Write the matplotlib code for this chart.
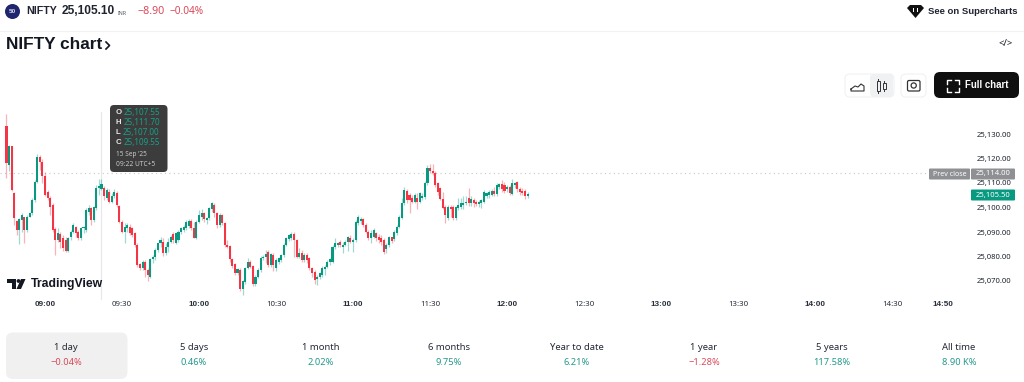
import matplotlib
matplotlib.use("Agg")
import matplotlib.pyplot as plt
from matplotlib.patches import FancyBboxPatch, Circle, Rectangle, Polygon

opens = [
25133.3,25117.4,25124.9,25105.8,25094.3,25090.9,25094.9,25096.0,25090.9,25096.3,
25097.7,25103.1,25110.6,25120.5,25118.7,25112.9,25106.5,25103.8,25101.1,25091.1,
25086.8,25089.2,25087.5,25086.8,25082.4,25088.1,25090.2,25092.2,25090.2,25087.5,
25091.5,25090.9,25098.3,25099.7,25094.9,25099.7,25107.9,25107.55,25107.9,25103.8,
25106.5,25102.4,25104.5,25105.8,25100.6,25094.2,25090.2,25091.5,25092.2,25091.5,
25089.5,25084.7,25077.0,25075.2,25077.9,25074.3,25071.8,25078.9,25080.0,25082.7,
25085.4,25086.1,25081.3,25084.0,25086.1,25089.0,25085.4,
25086.8,25090.2,25090.8,25091.5,25092.5,25094.5,25091.5,25087.7,25094.2,25096.3,
25097.6,25094.9,25095.6,25099.3,25101.0,25097.6,25092.9,25097.0,25093.6,25084.7,
25084.3,25078.9,25077.0,25073.4,25074.5,25066.6,25069.4,25075.2,25077.9,25076.2,
25068.8,25071.5,25074.5,25079.3,25080.0,25082.0,25076.6,25080.6,25075.2,25077.9,
25078.6,25080.6,25084.7,25087.0,25087.4,25089.2,25086.8,25080.0,25081.3,25078.6,
25080.6,25079.3,25075.2,25073.8,25070.7,25071.8,25072.5,25074.8,25075.9,25077.9,
25077.9,25083.8,25084.7,25086.1,25083.8,25084.7,25086.1,25087.4,25086.1,25086.8,
25093.6,25094.3,25095.2,25092.9,25090.2,25087.5,25087.9,25089.5,25087.9,25087.5,
25086.8,25083.0,25084.7,25087.9,25087.0,25089.5,25092.2,25095.6,25101.7,25106.9,
25105.1,25103.8,25102.4,25103.8,25102.4,25103.8,25104.1,25109.9,25116.0,25114.7,
25114.0,25109.9,25107.9,25103.4,25100.4,25095.6,25100.1,25100.4,25095.6,25099.7,
25100.4,25101.1,25101.7,25103.8,25101.7,25103.1,25102.4,25101.5,25101.7,25102.4,
25104.5,25105.1,25105.1,25106.9,25105.4,25108.5,25109.6,25109.2,25107.5,25108.3,
25105.5,25109.2,25110.3,25107.5,25106.9,25106.9,25104.5]
closes = [
25118.1,25124.9,25107.2,25095.6,25090.9,25095.2,25097.0,25090.9,25096.3,25097.7,
25103.1,25110.6,25120.5,25118.7,25112.9,25105.1,25103.8,25100.4,25090.9,25086.8,
25089.5,25086.1,25083.4,25082.4,25087.5,25090.2,25092.9,25089.5,25087.5,25091.5,
25092.2,25099.0,25099.7,25094.7,25100.1,25107.9,25108.8,25109.55,25104.5,25107.2,
25102.4,25104.5,25106.5,25101.1,25094.2,25090.2,25092.2,25092.9,25089.5,25088.8,
25084.7,25076.6,25075.2,25077.9,25074.3,25072.5,25078.9,25080.0,25082.7,25085.4,
25086.8,25081.3,25084.0,25086.1,25088.1,25086.8,25089.5,
25090.2,25091.5,25092.2,25094.2,25094.5,25091.5,25087.7,25094.2,25097.0,25097.6,
25095.2,25095.6,25099.7,25101.7,25097.6,25092.9,25097.0,25093.6,25084.7,25083.8,
25078.9,25076.2,25073.4,25074.8,25066.6,25069.8,25075.2,25077.9,25075.9,25068.8,
25071.8,25074.5,25079.3,25080.0,25081.1,25076.6,25081.1,25076.6,25078.6,25079.3,
25080.6,25084.7,25087.4,25088.8,25089.2,25086.8,25080.0,25081.3,25078.6,25080.6,
25078.6,25075.2,25073.2,25070.4,25071.8,25073.2,25075.2,25075.9,25077.9,25078.9,
25084.0,25085.4,25085.4,25084.7,25084.7,25086.1,25087.8,25086.1,25086.8,25094.2,
25096.3,25095.2,25092.9,25090.2,25087.5,25089.5,25090.9,25087.5,25086.8,25086.1,
25082.0,25084.7,25087.9,25086.5,25090.2,25092.2,25096.3,25101.7,25107.2,25103.1,
25103.1,25102.4,25105.1,25102.4,25105.8,25104.5,25109.9,25116.0,25114.7,25114.0,
25109.2,25106.5,25103.4,25099.7,25097.0,25100.1,25099.3,25095.6,25100.1,25101.1,
25101.7,25102.0,25102.4,25101.7,25103.4,25101.7,25101.5,25102.4,25103.1,25106.5,
25105.8,25106.5,25106.9,25105.4,25109.2,25109.5,25107.5,25106.9,25108.5,25105.8,
25110.2,25109.9,25107.5,25106.5,25106.1,25104.5,25105.5]
highs = [
25138.2,25125.4,25125.2,25106.5,25095.0,25095.6,25097.7,25096.3,25097.0,25098.3,
25104.0,25111.3,25121.7,25121.5,25119.7,25114.6,25107.2,25104.5,25101.7,25092.2,
25091.5,25089.8,25088.8,25088.0,25088.1,25090.9,25093.8,25092.5,25090.9,25092.2,
25092.5,25099.7,25101.0,25100.4,25100.6,25109.2,25111.5,25111.7,25108.8,25107.9,
25107.4,25105.8,25107.4,25106.9,25101.0,25094.9,25093.6,25093.8,25093.3,25092.2,
25090.2,25085.4,25077.5,25078.6,25078.6,25075.2,25079.3,25080.7,25083.4,25086.1,
25087.9,25087.5,25085.4,25087.5,25088.8,25089.8,25089.8,
25090.8,25092.2,25092.9,25094.9,25095.2,25095.2,25094.2,25094.9,25099.0,25099.3,
25098.3,25096.3,25100.4,25102.4,25101.7,25098.3,25097.6,25097.2,25094.2,25086.8,
25084.7,25079.3,25077.5,25075.2,25075.2,25070.4,25075.9,25079.3,25078.6,25076.6,
25072.5,25075.2,25080.2,25080.6,25082.7,25082.7,25081.6,25081.3,25079.3,25080.0,
25081.0,25085.4,25088.1,25089.2,25089.8,25090.2,25087.0,25083.4,25082.7,25081.3,
25081.3,25079.7,25075.9,25074.5,25072.5,25073.8,25076.2,25076.6,25078.6,25079.3,
25084.7,25087.4,25086.1,25086.8,25086.1,25086.8,25088.4,25088.8,25087.4,25094.9,
25097.0,25096.3,25095.6,25093.6,25090.9,25090.9,25091.5,25090.2,25089.2,25088.8,
25087.5,25085.4,25088.4,25088.1,25090.9,25092.9,25097.0,25103.8,25108.3,25107.5,
25105.8,25105.1,25105.8,25105.8,25106.5,25105.8,25111.0,25117.4,25117.8,25117.8,
25114.7,25110.6,25108.3,25106.5,25101.1,25101.1,25101.1,25101.1,25100.7,25103.8,
25103.8,25104.5,25104.5,25108.1,25104.5,25103.8,25103.1,25103.1,25103.4,25107.2,
25106.5,25107.2,25107.5,25108.5,25109.9,25109.9,25111.3,25110.6,25109.2,25109.2,
25111.5,25110.6,25111.0,25108.5,25107.9,25107.5,25106.5]
lows = [
25111.9,25115.0,25106.9,25092.9,25088.8,25085.1,25090.2,25085.4,25090.2,25096.0,
25096.9,25102.4,25109.9,25115.3,25109.9,25104.5,25103.1,25097.0,25090.2,25080.7,
25086.1,25083.4,25082.4,25082.0,25082.0,25086.8,25089.5,25088.1,25086.8,25086.8,
25089.5,25090.2,25097.0,25092.9,25094.2,25099.0,25105.1,25107.0,25103.1,25103.1,
25101.7,25101.7,25103.8,25100.4,25093.6,25089.5,25085.4,25090.2,25088.8,25088.1,
25084.0,25075.9,25074.3,25074.5,25071.8,25069.8,25071.1,25077.3,25078.6,25082.0,
25084.0,25080.2,25080.7,25082.0,25085.4,25085.4,25085.0,
25086.1,25089.2,25090.2,25090.8,25091.5,25090.8,25087.4,25087.0,25093.6,25094.9,
25094.2,25093.3,25094.9,25098.3,25096.3,25091.5,25092.2,25092.9,25084.0,25083.4,
25077.9,25075.2,25072.5,25072.5,25066.1,25064.3,25068.8,25074.8,25075.2,25068.0,
25068.0,25071.1,25073.8,25078.6,25077.2,25075.9,25075.9,25074.2,25074.2,25077.0,
25077.9,25080.0,25084.3,25086.5,25086.8,25080.0,25079.3,25079.3,25077.9,25077.9,
25077.5,25074.5,25071.8,25068.8,25068.4,25070.7,25071.8,25072.5,25075.2,25076.6,
25077.2,25082.9,25083.8,25083.8,25081.6,25084.3,25082.4,25085.4,25082.0,25086.1,
25092.9,25093.3,25092.0,25089.5,25086.8,25085.4,25087.5,25086.5,25085.4,25084.7,
25081.1,25081.3,25083.8,25085.7,25086.5,25088.8,25091.5,25095.2,25101.0,25101.7,
25097.9,25101.7,25101.7,25099.3,25101.7,25103.1,25103.4,25109.2,25114.0,25113.3,
25108.5,25105.1,25103.1,25099.3,25093.6,25095.0,25096.3,25095.0,25095.0,25099.0,
25099.3,25099.3,25101.1,25100.7,25100.7,25100.4,25100.7,25100.4,25099.7,25101.7,
25103.8,25103.8,25104.5,25104.5,25104.5,25107.5,25106.5,25106.1,25106.5,25105.1,
25105.1,25107.9,25106.5,25105.1,25105.1,25103.4,25103.8]
first_minute = -15  # 08:45 UTC+5 relative to 09:00

price_ticks = [25070, 25080, 25090, 25100, 25110, 25120, 25130]
price_labels = ["25,070.00", "25,080.00", "25,090.00", "25,100.00", "25,110.00", "25,120.00", "25,130.00"]
time_ticks = [0, 30, 60, 90, 120, 150, 180, 210, 240, 270, 300, 330, 350]
time_labels = ["09:00", "09:30", "10:00", "10:30", "11:00", "11:30", "12:00", "12:30", "13:00", "13:30", "14:00", "14:30", "14:50"]
prev_close = 25114.0
last_price = 25105.5
tab_names = ["1 day", "5 days", "1 month", "6 months", "Year to date", "1 year", "5 years", "All time"]
tab_values = ["−0.04%", "0.46%", "2.02%", "9.75%", "6.21%", "−1.28%", "117.58%", "8.90 K%"]
tab_centers = [66, 194, 321, 449, 577, 704, 832, 959]

GREEN, RED = "#089981", "#F23645"
TEXT = "#131722"
BOLD_FAMILY = ["Liberation Sans", "DejaVu Sans"]
plt.rcParams["font.family"] = ["Noto Sans", "DejaVu Sans"]

W, H = 1024, 382
fig = plt.figure(figsize=(W / 100, H / 100), dpi=100, facecolor="white")

L, R, T, B = 0, 972, 100, 300
ax = fig.add_axes([L / W, 1 - B / H, (R - L) / W, (B - T) / H])
PX_PER_MIN = 2.567
ax.set_xlim((L - 45) / PX_PER_MIN, (R - 45) / PX_PER_MIN)
ax.set_ylim(25130 - (B - 134) / 2.45, 25130 + (134 - T) / 2.45)
for s in ax.spines.values():
    s.set_visible(False)
ax.patch.set_alpha(0)
ax.yaxis.tick_right()
ax.set_yticks(price_ticks, price_labels, fontsize=5.5, color="#1f2430")
ax.tick_params(axis="y", length=0, pad=3.5)
ax.set_xticks(time_ticks, time_labels, fontsize=5.7, color="#2a2f3a")
ax.tick_params(axis="x", length=0, pad=0.8)
for lab, txt in zip(ax.get_xticklabels(), time_labels):
    if txt.endswith(":00") or txt == "14:50":
        lab.set_family(BOLD_FAMILY)
        lab.set_fontweight("bold")
        lab.set_fontsize(5.9)

minutes = [first_minute + i for i in range(len(opens))]
colors = [GREEN if c >= o else RED for o, c in zip(opens, closes)]
ax.vlines(minutes, lows, highs, colors=colors, lw=0.9, alpha=0.38, zorder=3)
ax.bar(minutes, [c - o if c != o else 0.2 for o, c in zip(opens, closes)], bottom=opens,
       width=0.8, color=colors, lw=0, zorder=4)
ax.axhline(prev_close, xmin=0, xmax=930 / R, color="#c4c6ca", lw=0.8, ls=(0, (1, 3)), zorder=2)
ax.axvline(22, color="#e6e7ea", lw=0.8, ymin=0.0, ymax=0.94, zorder=1)

ui = fig.add_axes([0, 0, 1, 1])
ui.set_xlim(0, W)
ui.set_ylim(H, 0)
ui.axis("off")
ui.patch.set_alpha(0)

def rbox(x, y, w, h, r, fc, ec="none", lw=0.8, z=5):
    p = FancyBboxPatch((x + r, y + r), w - 2 * r, h - 2 * r, boxstyle=f"round,pad={r},rounding_size={r}",
                       fc=fc, ec=ec, lw=lw, zorder=z)
    ui.add_patch(p)

def t(x, y, s, size=8, color=TEXT, weight="normal", ha="left", z=6, **kw):
    if weight == "bold":
        kw["family"] = BOLD_FAMILY
    ui.text(x, y, s, fontsize=size, color=color, fontweight=weight, ha=ha, va="center", zorder=z, **kw)

# header
ui.add_patch(Circle((12.5, 11.5), 7.5, fc="#20266e", zorder=5))
t(12.5, 11.5, "50", 4.6, "#d8dbef", "bold", "center")
t(26, 11.5, "NIFTY", 7.7, "#1f2430", "bold")
t(62, 11.5, "25,105.10", 8.6, "#1f2430", "bold")
t(118, 13.5, "INR", 3.8, "#555a66")
t(137, 11.5, "−8.90", 7.7, "#d9495a")
t(170, 11.5, "−0.04%", 7.3, "#d9495a")
ui.plot([0, W], [31, 31], color="#f0f1f3", lw=0.8)
t(928, 11.5, "See on Supercharts", 6.8, "#1f2430", "bold")
ui.add_patch(Polygon([[907, 8], [910, 5], [921, 5], [924, 8], [915.5, 18]], closed=True, fc="#111", zorder=5))
ui.add_patch(Rectangle((912.5, 8), 1.6, 3.5, fc="white", zorder=6))
ui.add_patch(Rectangle((916.5, 8), 1.6, 3.5, fc="white", zorder=6))
t(6, 44.5, "NIFTY chart", 12.4, "#131722", "bold")
ui.plot([106, 109.5, 106], [42, 45.5, 49], color="#131722", lw=1.2, zorder=6)
t(1006, 44, "</>", 6.8, "#131722", "normal", "center")

# toolbar
rbox(845, 74, 49, 23, 5, "white", "#f0f1f3")
rbox(870, 74, 23, 23, 4, "#f0f1f3")
ui.plot([851, 855, 858, 861, 864, 864, 851, 851], [89, 86, 87, 84, 86, 91, 91, 89], color="#333", lw=0.8, zorder=6)
for x_, a, b in ((878, 81, 91), (884, 83, 89)):
    ui.plot([x_, x_], [a - 2, b + 2], color="#333", lw=0.7, zorder=6)
    ui.add_patch(Rectangle((x_ - 1.5, a), 3, b - a, fc="#f0f1f3", ec="#333", lw=0.7, zorder=7))
rbox(901, 74, 25, 23, 5, "white", "#f0f1f3")
rbox(907.5, 80.5, 12.5, 10.5, 1.5, "white", "#333", 0.9, 6)
ui.add_patch(Circle((913.7, 85.5), 2.6, fc="white", ec="#333", lw=0.9, zorder=7))
rbox(934, 72, 85, 26, 6, "#0f0f0f")
for xs, ys in (([947, 947, 951], [84, 80, 80]), ([955, 959, 959], [80, 80, 84]),
               ([959, 959, 955], [88, 92, 92]), ([951, 947, 947], [92, 92, 88])):
    ui.plot(xs, ys, color="white", lw=1.0, zorder=7)
t(965, 85, "Full chart", 6.9, "white", "bold")

# price labels
rbox(929, 168.5, 41, 11, 1, "#8f9094", z=5)
t(949.5, 174, "Prev close", 5.1, "white", ha="center")
rbox(971, 168.5, 44, 11, 1, "#8f9094", z=5)
t(993, 174, "25,114.00", 5.5, "white", ha="center")
rbox(971, 189.5, 44, 11, 1, GREEN, z=5)
t(993, 195, "25,105.50", 5.5, "white", ha="center")

# tooltip
rbox(110, 105, 57.5, 67, 4, "#3c3c3c", z=8)
for yy, k, v in ((113, "O", "25,107.55"), (123, "H", "25,111.70"), (132.5, "L", "25,107.00"), (143, "C", "25,109.55")):
    t(116, yy, k, 5.6, "#e8e8e8", "bold", z=9)
    t(123.5 if k != "L" else 122.5, yy, v, 5.8, "#1a9f87", z=9)
t(116.5, 155, "15 Sep ’25", 4.7, "#c8c8c8", z=9)
t(116.5, 164, "09:22 UTC+5", 4.8, "#c8c8c8", z=9)

# TradingView logo
ui.add_patch(Polygon([[7, 279], [16, 279], [16, 289], [12, 289], [12, 283], [7, 283]], closed=True, fc="#131722", zorder=6))
ui.add_patch(Circle((18.5, 281), 1.9, fc="#131722", zorder=6))
ui.add_patch(Polygon([[21, 279], [25.5, 279], [21, 289], [16.5, 289]], closed=True, fc="#131722", zorder=6))
t(30.5, 283.5, "TradingView", 8.8, "#131722", "bold")

# range tabs
rbox(6, 332.5, 121.5, 46.5, 7, "#f0f0f0", z=1)
for cx, n, v in zip(tab_centers, tab_names, tab_values):
    t(cx, 348, n, 6.8, "#252a35", ha="center")
    t(cx, 362.5, v, 6.7, "#d9495a" if v.startswith("−") else "#22998a", ha="center")

fig.savefig("out.png", dpi=100, facecolor="white")
